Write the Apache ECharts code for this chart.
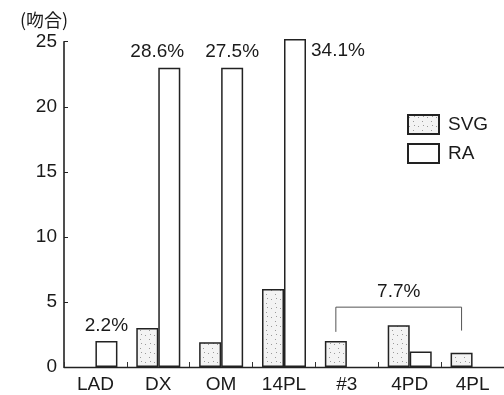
<!DOCTYPE html>
<html>
<head>
<meta charset="utf-8">
<script src="https://cdn.jsdelivr.net/npm/echarts@6/dist/echarts.min.js"></script>
<style>
html,body{margin:0;padding:0;background:#fff;}
#chart{width:504px;height:395px;}
</style>
</head>
<body>
<div id="chart"></div>
<script>
// ---- data ----
const categories = ['LAD', 'DX', 'OM', '14PL', '#3', '4PD', '4PL'];
const svgValues = [0, 3, 1.9, 6, 2, 3.2, 1.1];
const raValues = [2, 23, 23, 25.2, 0, 1.2, 0];
const raPercentLabels = ['2.2%', '28.6%', '27.5%', '34.1%', '', '', ''];
const groupLabel = '7.7%';
const groupBracket = [[4, 6, 4.6, 2.7, 2.8]]; // fromCat, toCat, top, leftLegBottom, rightLegBottom
const yTicks = {min: 0, max: 25, interval: 5};
const yAxisName = '(吻合)';
const seriesNames = ['SVG', 'RA'];

// dotted pattern fill for SVG bars
function makePattern() {
  const c = document.createElement('canvas');
  c.width = 9; c.height = 9;
  const g = c.getContext('2d');
  g.fillStyle = '#f3f3f3';
  g.fillRect(0, 0, 9, 9);
  g.fillStyle = '#9a9a9a';
  g.fillRect(1, 2, 1, 1);
  g.fillRect(5, 6, 1, 1);
  g.fillRect(6, 1, 1, 1);
  return c;
}
const pattern = {image: makePattern(), repeat: 'repeat'};

const FONT = 'Liberation Sans, Arial, sans-serif';
const TXT = '#1a1a1a';
const BW = 22;

function hideZero(v) {
  return v === 0 ? {value: v, itemStyle: {borderWidth: 0, color: 'rgba(0,0,0,0)'}} : {value: v};
}

const svgData = svgValues.map(hideZero);
const raData = raValues.map((v, i) => {
  const item = hideZero(v);
  const t = raPercentLabels[i];
  if (!t) { item.label = {show: false}; return item; }
  if (i === 3) {
    item.label = {show: true, position: ['100%', 12], align: 'left', verticalAlign: 'middle', offset: [5, 0]};
  } else if (i === 1) {
    item.label = {show: true, position: 'top', offset: [-12, -1]};
  } else {
    item.label = {show: true, position: 'top', offset: [0, -1]};
  }
  return item;
});

const chart = echarts.init(document.getElementById('chart'), null, {renderer: 'canvas'});
chart.setOption({
  animation: false,
  backgroundColor: '#fff',
  textStyle: {fontFamily: FONT, color: TXT},
  grid: {left: 64, right: 0, top: 41.7, bottom: 28, containLabel: false},
  legend: {
    orient: 'vertical', left: 402, top: 109,
    itemWidth: 31, itemHeight: 19, itemGap: 8,
    textStyle: {fontSize: 19, color: TXT, fontFamily: FONT, padding: [0, 0, 0, 4]},
    data: [{name: seriesNames[0], icon: 'rect'}, {name: seriesNames[1], icon: 'rect'}]
  },
  xAxis: {
    type: 'category', data: categories,
    axisLine: {lineStyle: {color: '#222', width: 1.3}},
    axisTick: {show: true, inside: true, length: 5, lineStyle: {color: '#333'}},
    axisLabel: {fontSize: 19, color: TXT, margin: 8, fontFamily: FONT}
  },
  yAxis: {
    type: 'value', min: yTicks.min, max: yTicks.max, interval: yTicks.interval,
    name: yAxisName, nameLocation: 'end', nameGap: 13,
    nameTextStyle: {fontSize: 18, color: TXT, align: 'center', padding: [0, 40, 0, 0], fontFamily: 'Noto Sans CJK JP'},
    axisLine: {show: true, lineStyle: {color: '#222', width: 1.6}},
    axisTick: {show: true, inside: true, length: 4, lineStyle: {color: '#222'}},
    splitLine: {show: false},
    axisLabel: {fontSize: 19, color: TXT, margin: 7, fontFamily: FONT}
  },
  series: [
    {
      name: seriesNames[0], type: 'bar', data: svgData,
      barWidth: BW, barGap: '0%',
      itemStyle: {color: pattern, borderColor: '#222', borderWidth: 1.5},
      label: {show: false}
    },
    {
      name: seriesNames[1], type: 'bar', data: raData,
      barWidth: BW, barGap: '0%', clip: false,
      itemStyle: {color: '#fff', borderColor: '#222', borderWidth: 1.5},
      label: {fontSize: 19, color: TXT, fontFamily: FONT, distance: 5,
        formatter: function (p) { return raPercentLabels[p.dataIndex]; }}
    },
    {
      type: 'custom', name: 'bracket', silent: true,
      data: groupBracket,
      encode: {x: [0, 1], y: [2, 3, 4]},
      renderItem: function (params, api) {
        const half = BW / 2;
        const a = api.coord([api.value(0), api.value(2)]);
        const b = api.coord([api.value(1), api.value(2)]);
        const la = api.coord([api.value(0), api.value(3)]);
        const lb = api.coord([api.value(1), api.value(4)]);
        const x1 = a[0] - half, x2 = b[0] - half;
        return {
          type: 'group',
          children: [
            {type: 'polyline', shape: {points: [[x1, la[1]], [x1, a[1]], [x2, a[1]], [x2, lb[1]]]},
             style: {stroke: '#555', lineWidth: 1, fill: null}},
            {type: 'text', style: {text: groupLabel, x: (x1 + x2) / 2, y: a[1] - 6,
             textAlign: 'center', textVerticalAlign: 'bottom', fontSize: 19, fontFamily: FONT, fill: TXT}}
          ]
        };
      }
    }
  ]
});
</script>
</body>
</html>
